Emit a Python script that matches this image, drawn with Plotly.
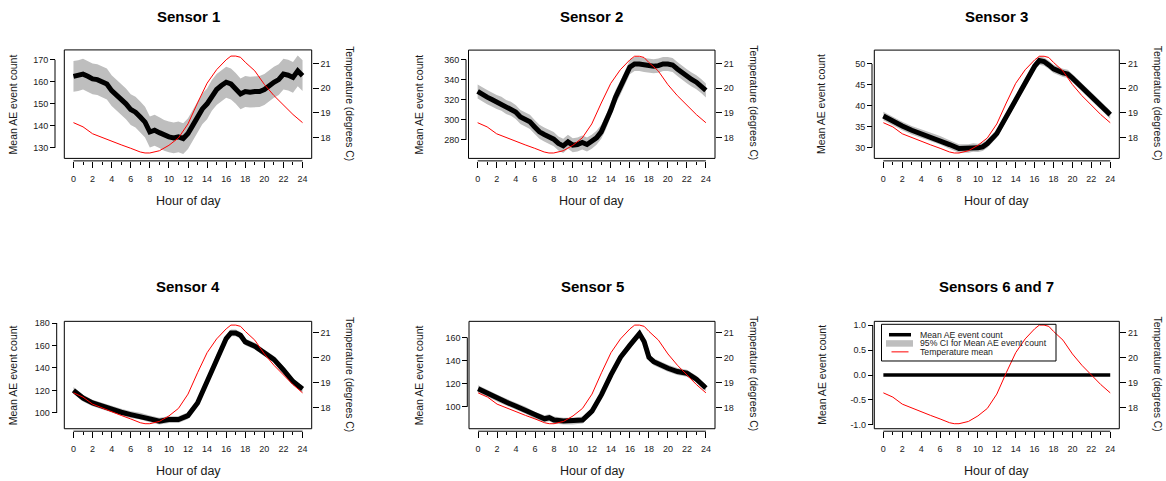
import plotly.graph_objects as go

# ---------------- data ----------------
HOURS_HALF = [0, 0.5, 1, 1.5, 2, 2.5, 3, 3.5, 4, 4.5, 5, 5.5, 6, 6.5, 7, 7.5, 8, 8.5,
              9, 9.5, 10, 10.5, 11, 11.5, 12, 12.5, 13, 13.5, 14, 14.5, 15, 15.5,
              16, 16.5, 17, 17.5, 18, 18.5, 19, 19.5, 20, 20.5, 21, 21.5, 22, 22.5,
              23, 23.5, 24]

S1_MEAN = [162.5, 162.8, 163.5, 162.5, 161.3, 161.0, 160.0, 159.0, 156.0, 154.0, 152.3,
           150.0, 147.4, 146.2, 144.0, 141.7, 137.2, 138.0, 136.9, 135.7, 135.0, 134.5,
           135.0, 134.2, 136.5, 140.2, 144.0, 147.7, 150.0, 153.8, 156.5, 158.3, 159.8,
           159.0, 157.0, 154.5, 155.6, 155.3, 155.6, 155.6, 156.5, 158.3, 159.8, 161.0,
           163.5, 163.0, 162.0, 165.0, 162.8]
S1_CI = 7.0

S2_MEAN = [328.3, 325.0, 322.6, 320.3, 317.7, 316.0, 312.7, 311.0, 307.8, 302.8, 300.5,
           297.9, 292.9, 288.0, 285.3, 283.0, 280.7, 276.4, 274.0, 278.0, 274.7, 275.4,
           277.4, 275.4, 278.0, 282.0, 288.0, 297.9, 309.4, 322.6, 331.6, 342.5, 352.4,
           355.7, 355.7, 354.7, 354.0, 353.4, 354.0, 355.7, 355.7, 354.7, 350.7, 346.8,
           343.5, 340.2, 337.5, 333.6, 329.3]
S2_CI = 7.0

S3_HOURS = [0, 1, 2, 3, 4, 5, 6, 7, 8, 9, 9.5, 10, 10.5, 11, 12, 13, 14, 15, 16, 16.5,
            17, 17.5, 18, 19, 19.5, 20, 21, 22, 23, 24]
S3_MEAN = [37.54, 36.27, 35.16, 34.13, 33.33, 32.54, 31.75, 30.71, 29.76, 29.76, 30.0,
           29.92, 30.16, 30.95, 33.33, 37.3, 41.27, 45.63, 49.44, 50.8, 50.56, 49.76,
           48.8, 47.86, 47.6, 46.6, 44.44, 42.3, 40.24, 37.86]
S3_CI = 1.0

S4_HOURS = [0, 1, 2, 3, 4, 5, 6, 7, 8, 9, 10, 11, 12, 13, 14, 15, 16, 16.5, 17, 17.5,
            18, 19, 20, 21, 22, 23, 24]
S4_MEAN = [120.0, 113.2, 108.8, 105.9, 103.0, 100.6, 98.5, 97.1, 94.7, 92.6, 94.1, 94.1,
           97.6, 108.8, 127.9, 149.4, 166.2, 171.2, 171.2, 169.1, 163.2, 159.4, 153.5,
           147.6, 138.2, 127.9, 121.2]
S4_CI = 3.0

S5_HOURS = [0, 1, 2, 3, 4, 5, 6, 7, 7.5, 8, 9, 10, 11, 12, 13, 14, 15, 16, 16.5, 17,
            17.5, 18, 18.5, 19, 20, 21, 22, 23, 24]
S5_MEAN = [115.7, 111.4, 107.7, 104.0, 100.6, 97.1, 92.6, 89.7, 90.6, 88.6, 87.7, 87.7,
           88.6, 96.3, 110.6, 127.7, 142.9, 153.4, 159.1, 163.4, 156.3, 142.9, 139.1,
           137.1, 133.4, 130.6, 129.1, 124.0, 116.3]
S5_CI = 3.0

S67_HOURS = [0, 24]
S67_MEAN = [0.0, 0.0]

TEMP_HOURS = [0, 1, 2, 3, 4, 5, 6, 7, 7.5, 8, 9, 10, 11, 12, 13, 14, 15, 16, 16.5, 17,
              17.5, 18, 19, 20, 21, 22, 23, 24]
TEMP_MEAN = [18.6, 18.43, 18.15, 18.0, 17.82, 17.7, 17.56, 17.41, 17.37, 17.37, 17.46,
             17.68, 17.98, 18.55, 19.4, 20.2, 20.75, 21.15, 21.3, 21.3, 21.25, 21.05,
             20.7, 20.15, 19.7, 19.3, 18.93, 18.6]

TITLES = ["Sensor 1", "Sensor 2", "Sensor 3", "Sensor 4", "Sensor 5", "Sensors 6 and 7"]
LEFT_TICKS = [[130, 140, 150, 160, 170], [280, 300, 320, 340, 360], [30, 35, 40, 45, 50],
              [100, 120, 140, 160, 180], [100, 120, 140, 160], [-1.0, -0.5, 0.0, 0.5, 1.0]]
LEFT_TICKTEXT = [None, None, None, None, None, ["-1.0", "-0.5", "0.0", "0.5", "1.0"]]
TEMP_TICKS = [18, 19, 20, 21]
X_LABEL = "Hour of day"
Y_LABEL = "Mean AE event count"
Y2_LABEL = "Temperature (degrees C)"
LEGEND_LABELS = ["Mean AE event count", "95% CI for Mean AE event count", "Temperature mean"]

SERIES = [(HOURS_HALF, S1_MEAN, S1_CI), (HOURS_HALF, S2_MEAN, S2_CI),
          (S3_HOURS, S3_MEAN, S3_CI), (S4_HOURS, S4_MEAN, S4_CI),
          (S5_HOURS, S5_MEAN, S5_CI), (S67_HOURS, S67_MEAN, 0.0)]

# ---------------- layout geometry (pixels) ----------------
W, H = 1166, 481


def px(x):
    return x / W


def py(y):
    return 1 - y / H


# box left, box right, box top, box bottom, left-axis line x
GEOM = [
    (64.3, 311.7, 47.3, 156.7, 55.0),
    (468.5, 715.0, 47.5, 156.7, 466.0),
    (874.3, 1119.3, 47.5, 156.7, 872.0),
    (64.3, 311.7, 321.0, 429.3, 56.7),
    (469.0, 715.0, 321.0, 429.3, 467.3),
    (874.3, 1119.3, 321.0, 429.3, 872.7),
]
LEFT_RANGES = [[125.2, 174.5], [261.5, 369.5], [27.4, 53.3], [85.9, 181.5], [81.1, 174.0],
               [-1.08, 1.08]]
TEMP_RANGES = [[17.15, 21.55]] * 3 + [[17.17, 21.45]] * 3

FONT = "Liberation Sans, Arial, sans-serif"
TXT = "#1a1a1a"

fig = go.Figure()
layout = dict(width=W, height=H, margin=dict(l=0, r=0, t=0, b=0), autosize=False,
              paper_bgcolor="white", plot_bgcolor="white", showlegend=False,
              font=dict(family=FONT, color=TXT))
shapes = []
annotations = []

for i in range(6):
    n = i + 1
    xid = "x" if n == 1 else f"x{n}"
    ly, ry = 2 * n - 1, 2 * n
    lyid = "y" if ly == 1 else f"y{ly}"
    ryid = f"y{ry}"
    l, r, t, b, axx = GEOM[i]
    hours, mean, ci = SERIES[i]

    if ci > 0:
        lower = [m - ci for m in mean]
        upper = [m + ci for m in mean]
        fig.add_trace(go.Scatter(x=hours, y=lower, xaxis=xid, yaxis=lyid, mode="lines",
                                 line=dict(width=0, color="#bebebe"), hoverinfo="skip"))
        fig.add_trace(go.Scatter(x=hours, y=upper, xaxis=xid, yaxis=lyid, mode="lines",
                                 line=dict(width=0, color="#bebebe"), fill="tonexty",
                                 fillcolor="#bebebe", hoverinfo="skip"))
    fig.add_trace(go.Scatter(x=hours, y=mean, xaxis=xid, yaxis=lyid, mode="lines",
                             line=dict(color="black", width=5 if ci > 0 else 3.5)))
    fig.add_trace(go.Scatter(x=TEMP_HOURS, y=TEMP_MEAN, xaxis=xid, yaxis=ryid, mode="lines",
                             line=dict(color="red", width=1)))

    xaxis_y = b + 2.5
    xname = "xaxis" if n == 1 else f"xaxis{n}"
    layout[xname] = dict(
        domain=[px(l), px(r)], range=[-0.96, 24.96], anchor="free", position=py(xaxis_y),
        tickmode="linear", tick0=0, dtick=2, ticks="outside", ticklen=6, tickwidth=1,
        tickcolor="black", showline=False, showgrid=False, zeroline=False,
        tickfont=dict(size=9, family=FONT, color=TXT), ticklabelstandoff=3,
        minor=dict(dtick=1, tick0=0, ticks="outside", ticklen=3, tickwidth=1,
                   tickcolor="black", showgrid=False),
    )
    lname = "yaxis" if ly == 1 else f"yaxis{ly}"
    ldict = dict(
        domain=[py(b), py(t)], range=LEFT_RANGES[i], anchor="free", position=px(axx),
        side="left", tickmode="array", tickvals=LEFT_TICKS[i], ticks="outside", ticklen=5,
        tickwidth=1, tickcolor="black", showline=False, showgrid=False, zeroline=False,
        tickfont=dict(size=9, family=FONT, color=TXT),
    )
    if LEFT_TICKTEXT[i] is not None:
        ldict["ticktext"] = LEFT_TICKTEXT[i]
    layout[lname] = ldict
    layout[f"yaxis{ry}"] = dict(
        overlaying=lyid, range=TEMP_RANGES[i], anchor="free", position=px(r), side="right",
        tickmode="array", tickvals=TEMP_TICKS, ticks="outside", ticklen=6, tickwidth=1,
        tickcolor="black", showline=False, showgrid=False, zeroline=False,
        tickfont=dict(size=9, family=FONT, color=TXT),
    )

    # plot box
    shapes.append(dict(type="rect", xref=f"{xid} domain", yref=f"{lyid} domain",
                       x0=0, x1=1, y0=0, y1=1, line=dict(color="black", width=1),
                       layer="above"))
    # x axis line (from first to last tick)
    shapes.append(dict(type="line", xref=xid, yref="paper", x0=0, x1=24,
                       y0=py(xaxis_y), y1=py(xaxis_y), line=dict(color="black", width=1)))
    # left axis line
    shapes.append(dict(type="line", xref="paper", yref=lyid, x0=px(axx), x1=px(axx),
                       y0=LEFT_TICKS[i][0], y1=LEFT_TICKS[i][-1],
                       line=dict(color="black", width=1)))

    cx = (l + r) / 2
    row_off = 0 if i < 3 else 272
    annotations.append(dict(text=f"<b>{TITLES[i]}</b>", x=px(cx), y=py(13.5 + row_off),
                            xref="paper", yref="paper", showarrow=False,
                            font=dict(size=15, family=FONT, color="black"),
                            xanchor="center", yanchor="middle"))
    annotations.append(dict(text=X_LABEL, x=px(cx), y=py(200 + row_off), xref="paper",
                            yref="paper", showarrow=False,
                            font=dict(size=12.5, family=FONT, color=TXT),
                            xanchor="center", yanchor="middle"))
    ylx = [13.3, 419.3, 821.7][i % 3]
    annotations.append(dict(text=Y_LABEL, x=px(ylx), y=py((t + b) / 2), xref="paper",
                            yref="paper", showarrow=False, textangle=-90,
                            font=dict(size=10.5, family=FONT, color=TXT),
                            xanchor="center", yanchor="middle"))
    y2x = [350.0, 754.0, 1157.5][i % 3]
    annotations.append(dict(text=Y2_LABEL, x=px(y2x), y=py((t + b) / 2 - 1), xref="paper",
                            yref="paper", showarrow=False, textangle=90,
                            font=dict(size=10.3, family=FONT, color=TXT),
                            xanchor="center", yanchor="middle"))

# legend in the last panel (transparent box, the red curve shows through)
shapes.append(dict(type="rect", xref="paper", yref="paper", x0=px(881.5), x1=px(1056),
                   y0=py(324), y1=py(361), line=dict(color="black", width=1),
                   fillcolor="rgba(0,0,0,0)", layer="above"))
leg_styles = [("black", 3.5, 889, 911, 334.5), ("#bebebe", 6.5, 886, 913, 343.3),
              ("red", 1, 891.5, 908.5, 351.8)]
for (col, wdt, x0, x1, yy), lab in zip(leg_styles, LEGEND_LABELS):
    shapes.append(dict(type="line", xref="paper", yref="paper", x0=px(x0), x1=px(x1),
                       y0=py(yy), y1=py(yy), line=dict(color=col, width=wdt), layer="above"))
    annotations.append(dict(text=lab, x=px(917.5), y=py(yy), xref="paper", yref="paper",
                            showarrow=False, xanchor="left", yanchor="middle",
                            font=dict(size=8.7, family=FONT, color=TXT)))

layout["shapes"] = shapes
layout["annotations"] = annotations
fig.update_layout(**layout)
fig.write_html("out.html")
